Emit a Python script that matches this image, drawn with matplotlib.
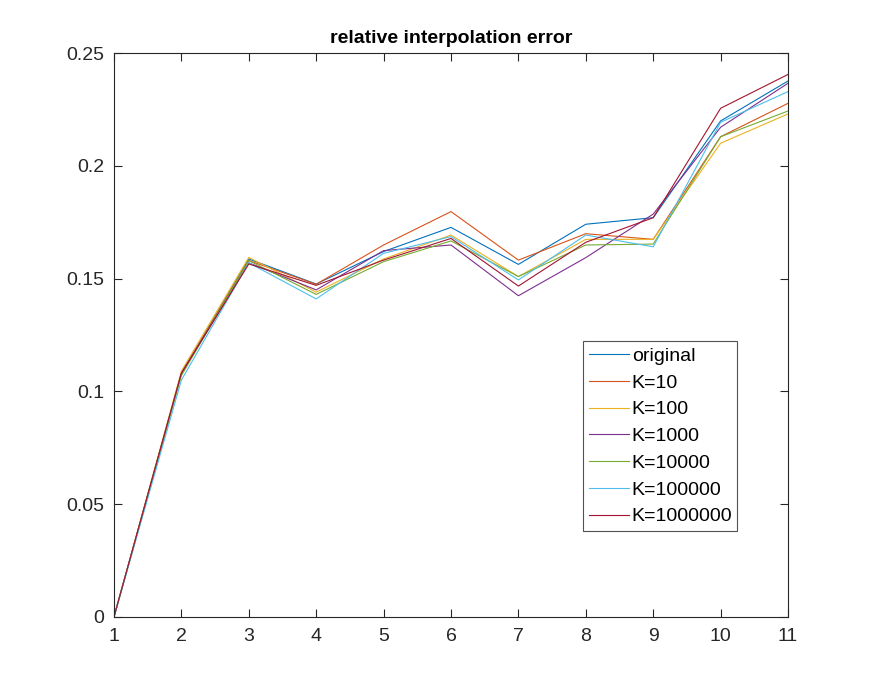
import matplotlib
matplotlib.use("Agg")
import matplotlib.pyplot as plt

plt.rcParams['font.family'] = ['Liberation Sans', 'DejaVu Sans']

x = [1, 2, 3, 4, 5, 6, 7, 8, 9, 10, 11]
labels = ["original", "K=10", "K=100", "K=1000", "K=10000", "K=100000", "K=1000000"]
colors = ["#0072BD", "#D95319", "#EDB120", "#7E2F8E", "#77AC30", "#4DBEEE", "#A2142F"]

original  = [0, 0.108, 0.1587, 0.1476, 0.1620, 0.1727, 0.1563, 0.1741, 0.1770, 0.2199, 0.2376]
k10       = [0, 0.108, 0.1580, 0.1475, 0.1649, 0.1797, 0.1582, 0.1699, 0.1674, 0.2129, 0.2277]
k100      = [0, 0.109, 0.1594, 0.1440, 0.1587, 0.1693, 0.1509, 0.1674, 0.1674, 0.2100, 0.2230]
k1000     = [0, 0.108, 0.1570, 0.1450, 0.1624, 0.1649, 0.1424, 0.1593, 0.1786, 0.2171, 0.2366]
k10000    = [0, 0.107, 0.1580, 0.1430, 0.1575, 0.1667, 0.1509, 0.1649, 0.1653, 0.2129, 0.2243]
k100000   = [0, 0.105, 0.1570, 0.1410, 0.1612, 0.1686, 0.1494, 0.1693, 0.1641, 0.2193, 0.2329]
k1000000  = [0, 0.108, 0.1565, 0.1470, 0.1582, 0.1678, 0.1467, 0.1661, 0.1770, 0.2255, 0.2405]

series = [original, k10, k100, k1000, k10000, k100000, k1000000]

fig = plt.figure(figsize=(8.72, 6.94), dpi=100)
ax = fig.add_axes([0.1307, 0.111, 0.7730, 0.8126])

for s, c, l in zip(series, colors, labels):
    ax.plot(x, s, color=c, linewidth=0.8, label=l)

ax.set_xlim(1, 11)
ax.set_ylim(0, 0.25)
ax.set_xticks(x)
ax.set_yticks([0, 0.05, 0.1, 0.15, 0.2, 0.25])
ax.set_yticklabels(["0", "0.05", "0.1", "0.15", "0.2", "0.25"])
axcol = "#262626"
for sp in ax.spines.values():
    sp.set_color(axcol)
    sp.set_linewidth(0.8)
ax.tick_params(direction="in", length=6, width=0.8, colors=axcol, labelsize=14,
               top=True, right=True)
ax.tick_params(axis="x", pad=8)
ax.tick_params(axis="y", pad=7)
ax.set_title("relative interpolation error", fontsize=14, fontweight="bold", color="#000000", pad=7)

leg = ax.legend(loc="lower left", bbox_to_anchor=(0.696, 0.152, 0.228, 0.335), mode="expand",
                fontsize=14, frameon=True, fancybox=False, handlelength=2.05,
                handletextpad=0.15, borderpad=0.3, labelspacing=0.47, borderaxespad=0)
leg.get_frame().set_edgecolor(axcol)
leg.get_frame().set_linewidth(0.8)
for t in leg.get_texts():
    t.set_color("#000000")

fig.savefig("out.png", dpi=100)
